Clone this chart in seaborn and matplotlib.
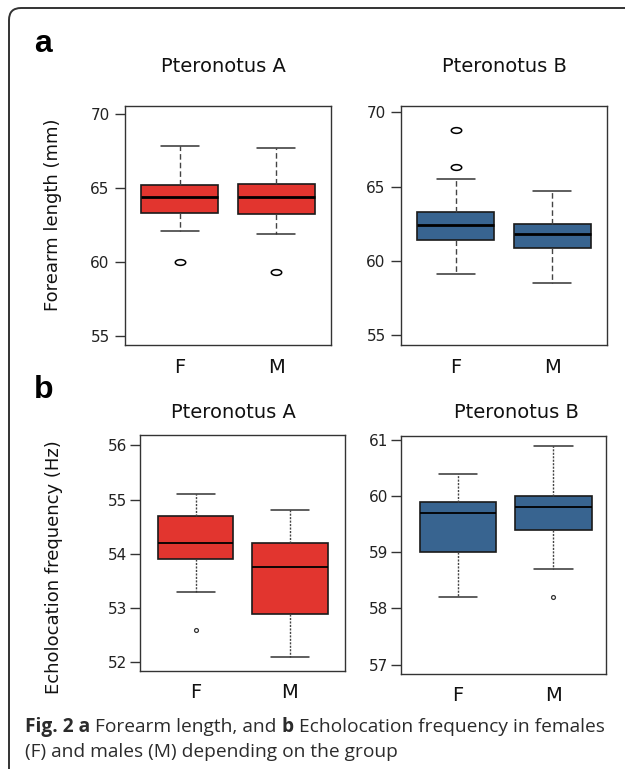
import numpy as np
import matplotlib
matplotlib.use("Agg")
import matplotlib.pyplot as plt
import seaborn as sns
from matplotlib.patches import FancyBboxPatch
from matplotlib.path import Path

# Group labels on the x axis
groups = ["F", "M"]

# a - Forearm length (mm), box summary
fa_A_low = [62.1, 61.9]
fa_A_q1 = [63.3, 63.2]
fa_A_med = [64.4, 64.35]
fa_A_q3 = [65.2, 65.25]
fa_A_high = [67.8, 67.7]
fa_A_out = [[60.0], [59.3]]

fa_B_low = [59.1, 58.5]
fa_B_q1 = [61.4, 60.9]
fa_B_med = [62.4, 61.8]
fa_B_q3 = [63.3, 62.5]
fa_B_high = [65.5, 64.7]
fa_B_out = [[66.3, 68.8], []]

# b - Echolocation frequency (Hz)
ec_A_low = [53.3, 52.1]
ec_A_q1 = [53.9, 52.9]
ec_A_med = [54.2, 53.75]
ec_A_q3 = [54.7, 54.2]
ec_A_high = [55.1, 54.8]
ec_A_out = [[52.6], []]

ec_B_low = [58.2, 58.7]
ec_B_q1 = [59.0, 59.4]
ec_B_med = [59.7, 59.8]
ec_B_q3 = [59.9, 60.0]
ec_B_high = [60.4, 60.9]
ec_B_out = [[], [58.2]]

red = "#E2352F"
blue = "#386490"

sns.set_theme(style="white")
plt.rcParams['font.family'] = ['DejaVu Sans']
plt.rcParams['text.color'] = 'black'

W, H = 625, 769
fig = plt.figure(figsize=(W / 100, H / 100), dpi=100)

# flat ellipse used for the outliers in panel a
circ = Path.unit_circle()
ellipse = Path(circ.vertices * np.array([1.0, 0.55]), circ.codes)


def px(x0, y0, x1, y1):
    # pixel box (top-left origin) -> figure fraction rect
    return [x0 / W, 1 - y1 / H, (x1 - x0) / W, (y1 - y0) / H]


def make_stats(low, q1, med, q3, high, out):
    return [dict(whislo=low[i], q1=q1[i], med=med[i], q3=q3[i], whishi=high[i],
                 fliers=out[i], label=groups[i]) for i in range(len(groups))]


def draw(rect, stats, color, ylim, xlim, yticks, top_panel):
    ax = fig.add_axes(rect)
    if top_panel:
        wls = (0, (4, 2.2))
        mlw = 2.0
        flier = dict(marker=ellipse, markersize=7.5, markerfacecolor='white',
                     markeredgecolor='black', markeredgewidth=1.1, linestyle='none')
        ypad = 4
    else:
        wls = (0, (1.5, 1))
        mlw = 1.3
        flier = dict(marker='o', markersize=2.8, markerfacecolor='white',
                     markeredgecolor='#333333', markeredgewidth=0.9, linestyle='none')
        ypad = 2
    ax.bxp(stats, positions=[0, 1], widths=0.8, capwidths=0.4, patch_artist=True,
           boxprops=dict(facecolor=color, edgecolor='#1a1a1a', linewidth=1.2),
           medianprops=dict(color='black', linewidth=mlw),
           whiskerprops=dict(color='#444444', linewidth=1.0, linestyle=wls),
           capprops=dict(color='#333333', linewidth=1.1),
           flierprops=flier)
    ax.set_xlim(*xlim)
    ax.set_ylim(*ylim)
    ax.set_yticks(yticks)
    ax.set_xticks([0, 1])
    ax.set_xticklabels(groups, fontsize=14)
    ax.tick_params(axis='x', length=0, pad=9, colors='#111111')
    ax.tick_params(axis='y', length=7, width=1, pad=ypad, labelsize=11,
                   direction='out', left=True, color='#333333', labelcolor='#222222')
    ax.set_facecolor('white')
    for s in ax.spines.values():
        s.set_color('#333333')
        s.set_linewidth(1.0)
        s.set_visible(True)
    return ax


draw(px(125, 105.5, 331, 345),
     make_stats(fa_A_low, fa_A_q1, fa_A_med, fa_A_q3, fa_A_high, fa_A_out),
     red, (54.4, 70.55), (-0.57, 1.57), [55, 60, 65, 70], True)
draw(px(401, 105.5, 607, 345),
     make_stats(fa_B_low, fa_B_q1, fa_B_med, fa_B_q3, fa_B_high, fa_B_out),
     blue, (54.35, 70.47), (-0.57, 1.57), [55, 60, 65, 70], True)
draw(px(139.5, 434.5, 344.5, 671),
     make_stats(ec_A_low, ec_A_q1, ec_A_med, ec_A_q3, ec_A_high, ec_A_out),
     red, (51.84, 56.2), (-0.596, 1.578), [52, 53, 54, 55, 56], False)
draw(px(400.5, 436, 605.5, 673.5),
     make_stats(ec_B_low, ec_B_q1, ec_B_med, ec_B_q3, ec_B_high, ec_B_out),
     blue, (56.84, 61.07), (-0.6, 1.545), [57, 58, 59, 60, 61], False)


# panel titles and y labels
def ftext(x, y, s, **kw):
    return fig.text(x / W, 1 - y / H, s, **kw)


ftext(223, 67, "Pteronotus A", ha='center', va='center', fontsize=14, color='#111111')
ftext(504, 67, "Pteronotus B", ha='center', va='center', fontsize=14, color='#111111')
ftext(233, 412, "Pteronotus A", ha='center', va='center', fontsize=14, color='#111111')
ftext(516, 412, "Pteronotus B", ha='center', va='center', fontsize=14, color='#111111')
ftext(53, 215, "Forearm length (mm)", rotation=90, ha='center', va='center',
      fontsize=13, color='#111111')
ftext(54, 567, "Echolocation frequency (Hz)", rotation=90, ha='center', va='center',
      fontsize=13, color='#111111')

# panel letters
ftext(34, 52, "a", ha='left', va='baseline', fontsize=23, fontweight='bold',
      family='Liberation Sans', color='black')
ftext(34, 398, "b", ha='left', va='baseline', fontsize=23, fontweight='bold',
      family='Liberation Sans', color='black')

# caption with bold pieces
renderer = fig.canvas.get_renderer()
line1 = [("Fig. 2 a", 'bold'), (" Forearm length, and ", 'normal'), ("b", 'bold'),
         (" Echolocation frequency in females", 'normal')]
x = 25
for s, w in line1:
    t = ftext(x, 732, s, ha='left', va='baseline', fontsize=13.8, fontweight=w,
              family='Open Sans', color='#2b2b2b')
    x += t.get_window_extent(renderer).width
ftext(25, 757, "(F) and males (M) depending on the group", ha='left', va='baseline',
      fontsize=13.8, family='Open Sans', color='#2b2b2b')

# outer frame with rounded top-left corner
frame = FancyBboxPatch((9, -60), 700, H - 8 + 60, transform=None,
                       boxstyle="round,pad=0,rounding_size=12",
                       fill=False, edgecolor='#333333', linewidth=1.4)
fig.patches.append(frame)

fig.savefig("out.png", dpi=100)
